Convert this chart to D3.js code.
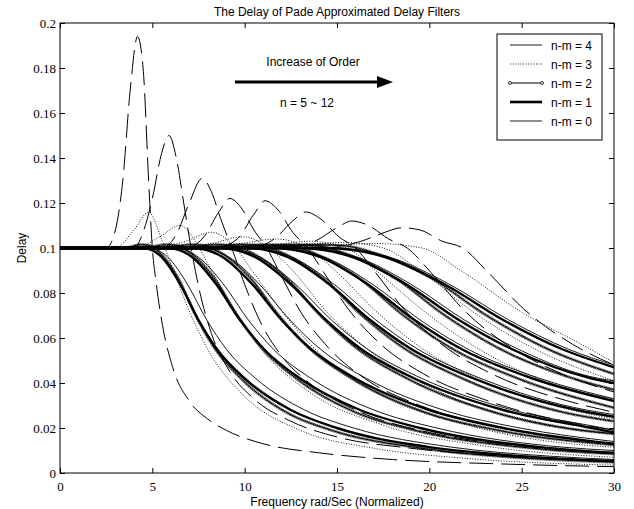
<!DOCTYPE html>
<html><head><meta charset="utf-8">
<script src="https://cdn.jsdelivr.net/npm/d3@7"></script>
<style>body{margin:0;background:#fff}svg{display:block}</style>
</head><body>
<svg id="c" width="634" height="509"></svg>
<script>
const xTicks=[0,5,10,15,20,25,30];
const yTicks=[0,0.02,0.04,0.06,0.08,0.1,0.12,0.14,0.16,0.18,0.2];
const yTickLabels=["0","0.02","0.04","0.06","0.08","0.1","0.12","0.14","0.16","0.18","0.2"];
const legendLabels=["n-m = 4","n-m = 3","n-m = 2","n-m = 1","n-m = 0"];
// n-m = 4 (long dash, resonant peaks), n = 5..12
const fam4=[
[[0,.1],[2.5,.1],[3.0,.108],[3.4,.13],[3.8,.17],[4.2,.194],[4.5,.18],[4.8,.13],[5.0,.1],[5.2,.085],[5.5,.068],[6.1,.047],[7,.032],[8,.024],[9,.019],[11,.013],[14,.009],[18,.006],[24,.004],[30,.0028]],
[[0,.1],[4.0,.1],[4.5,.107],[5.0,.122],[5.5,.142],[5.9,.150],[6.3,.14],[6.7,.12],[7.1,.1],[7.5,.083],[8.2,.062],[9.2,.045],[10.5,.033],[12.5,.023],[15,.016],[19,.011],[24,.0075],[30,.005]],
[[0,.1],[5.5,.1],[6.3,.106],[7,.12],[7.7,.131],[8.2,.125],[8.7,.113],[9.3,.1],[9.9,.086],[10.8,.068],[12,.052],[13.5,.04],[16,.028],[20,.018],[25,.012],[30,.0085]],
[[0,.1],[6.8,.1],[7.8,.105],[8.6,.116],[9.2,.122],[9.8,.118],[10.5,.108],[11.2,.1],[11.9,.089],[13,.072],[14.5,.056],[16.5,.042],[19.5,.030],[24,.020],[30,.013]],
[[0,.1],[8.4,.1],[9.6,.104],[10.5,.115],[11.1,.121],[11.8,.117],[12.6,.107],[13.4,.1],[14.3,.089],[15.6,.073],[17.4,.057],[19.7,.044],[23.2,.032],[30,.019]],
[[0,.1],[10.2,.1],[11.6,.104],[12.6,.112],[13.3,.116],[14.1,.113],[15.1,.105],[16,.1],[17.1,.089],[18.6,.073],[20.7,.057],[23.4,.044],[27.5,.032],[30,.027]],
[[0,.1],[12.2,.1],[13.8,.103],[15,.109],[15.8,.112],[16.7,.11],[17.8,.104],[18.8,.1],[20.1,.089],[21.8,.073],[24.2,.057],[27.2,.044],[30,.036]],
[[0,.1],[14.4,.1],[16.3,.103],[17.6,.107],[18.5,.109],[19.5,.108],[20.7,.103],[21.8,.1],[23.2,.089],[25.1,.073],[27.8,.057],[30,.048]]
];
// n-m = 3 (dotted, small peaks)
const fam3=[
[[0,.1],[3.0,.1],[4.0,.108],[4.8,.116],[5.5,.104],[6.1,.091],[7,.072],[8,.055],[10,.034],[13,.019],[17,.011],[22,.0065],[30,.0035]],
[[0,.1],[4.1,.1],[5.4,.105],[6.5,.110],[7.4,.102],[8.2,.09],[9.5,.072],[10.8,.056],[13.5,.036],[17.6,.021],[23,.012],[30,.007]],
[[0,.1],[5.1,.1],[6.8,.103],[8.2,.107],[9.4,.101],[10.4,.09],[12,.072],[13.7,.056],[17.1,.036],[22.2,.021],[29,.012],[30,.0115]],
[[0,.1],[6.2,.1],[8.2,.102],[9.9,.105],[11.3,.1],[12.6,.09],[14.4,.072],[16.5,.056],[20.6,.036],[26.8,.021],[30,.017]],
[[0,.1],[7.3,.1],[9.8,.102],[11.7,.104],[13.4,.1],[14.9,.09],[17.1,.072],[19.5,.056],[24.4,.036],[30,.024]],
[[0,.1],[8.4,.1],[11.2,.101],[13.5,.103],[15.5,.1],[17.1,.09],[19.7,.072],[22.5,.056],[28.1,.036],[30,.033]],
[[0,.1],[9.6,.1],[12.8,.101],[15.3,.1025],[17.5,.1],[19.5,.09],[22.3,.072],[25.5,.056],[30,.041]],
[[0,.1],[10.7,.1],[14.2,.101],[17.1,.102],[19.6,.1],[21.7,.09],[24.9,.072],[28.5,.056],[30,.049]]
];
// n-m = 2 (line with circle markers)
const fam2=[
[[0,.1],[3.43,.1],[4.41,.1015],[4.9,.101],[5.39,.098],[6.37,.087],[7.35,.07],[8.33,.056],[9.8,.042],[12.25,.027],[14.7,.019],[19.6,.011],[24.5,.007],[29.4,.005],[30,.0048]],
[[0,.1],[4.48,.1],[5.76,.1015],[6.4,.101],[7.04,.098],[8.32,.087],[9.6,.07],[10.88,.056],[12.8,.042],[16,.027],[19.2,.019],[25.6,.011],[30,.0085]],
[[0,.1],[5.53,.1],[7.11,.1015],[7.9,.101],[8.69,.098],[10.27,.087],[11.85,.07],[13.43,.056],[15.8,.042],[19.75,.027],[23.7,.019],[30,.0125]],
[[0,.1],[6.58,.1],[8.46,.1015],[9.4,.101],[10.34,.098],[12.22,.087],[14.1,.07],[15.98,.056],[18.8,.042],[23.5,.027],[28.2,.019],[30,.0175]],
[[0,.1],[7.63,.1],[9.81,.1015],[10.9,.101],[11.99,.098],[14.17,.087],[16.35,.07],[18.53,.056],[21.8,.042],[27.25,.027],[30,.023]],
[[0,.1],[8.68,.1],[11.16,.1015],[12.4,.101],[13.64,.098],[16.12,.087],[18.6,.07],[21.08,.056],[24.8,.042],[30,.029]],
[[0,.1],[9.73,.1],[12.51,.1015],[13.9,.101],[15.29,.098],[18.07,.087],[20.85,.07],[23.63,.056],[27.8,.042],[30,.037]],
[[0,.1],[10.78,.1],[13.86,.1015],[15.4,.101],[16.94,.098],[20.02,.087],[23.1,.07],[26.18,.056],[30,.044]]
];
// n-m = 1 (thick solid)
const fam1=[
[[0,.1],[4.5,.1],[5.5,.096],[6.5,.084],[7.5,.068],[8.5,.055],[10,.042],[12.5,.028],[15,.02],[20,.0115],[25,.0075],[30,.0053]],
[[0,.1],[5.85,.1],[7.15,.096],[8.45,.084],[9.75,.068],[11.05,.055],[13,.042],[16.25,.028],[19.5,.02],[26,.0115],[30,.009]],
[[0,.1],[7.2,.1],[8.8,.096],[10.4,.084],[12,.068],[13.6,.055],[16,.042],[20,.028],[24,.02],[30,.013]],
[[0,.1],[8.64,.1],[10.56,.096],[12.48,.084],[14.4,.068],[16.32,.055],[19.2,.042],[24,.028],[28.8,.02],[30,.018]],
[[0,.1],[10.08,.1],[12.32,.096],[14.56,.084],[16.8,.068],[19.04,.055],[22.4,.042],[28,.028],[30,.025]],
[[0,.1],[11.52,.1],[14.08,.096],[16.64,.084],[19.2,.068],[21.76,.055],[25.6,.042],[30,.032]],
[[0,.1],[12.96,.1],[15.84,.096],[18.72,.084],[21.6,.068],[24.48,.055],[28.8,.042],[30,.040]],
[[0,.1],[14.4,.1],[17.6,.096],[20.8,.084],[24,.068],[27.2,.055],[30,.047]]
];
// n-m = 0 (thin solid)
const fam0=[
[[0,.1],[4.77,.1],[5.83,.096],[6.89,.084],[7.95,.068],[9.01,.055],[10.6,.042],[13.25,.028],[15.9,.02],[21.2,.0115],[26.5,.0075],[30,.006]],
[[0,.1],[6.12,.1],[7.48,.096],[8.84,.084],[10.2,.068],[11.56,.055],[13.6,.042],[17,.028],[20.4,.02],[27.2,.0115],[30,.010]],
[[0,.1],[7.47,.1],[9.13,.096],[10.79,.084],[12.45,.068],[14.11,.055],[16.6,.042],[20.75,.028],[24.9,.02],[30,.014]],
[[0,.1],[8.82,.1],[10.78,.096],[12.74,.084],[14.7,.068],[16.66,.055],[19.6,.042],[24.5,.028],[29.4,.02],[30,.019]],
[[0,.1],[10.26,.1],[12.54,.096],[14.82,.084],[17.1,.068],[19.38,.055],[22.8,.042],[28.5,.028],[30,.026]],
[[0,.1],[11.7,.1],[14.3,.096],[16.9,.084],[19.5,.068],[22.1,.055],[26,.042],[30,.033]],
[[0,.1],[13.14,.1],[16.06,.096],[18.98,.084],[21.9,.068],[24.82,.055],[29.2,.042],[30,.041]],
[[0,.1],[14.58,.1],[17.82,.096],[21.06,.084],[24.3,.068],[27.54,.055],[30,.048]]
];

const svg=d3.select("#c");
const M={l:60,r:614,t:23,b:473};
const x=d3.scaleLinear().domain([0,30]).range([M.l,M.r]);
const y=d3.scaleLinear().domain([0,0.2]).range([M.b,M.t]);
const line=d3.line().x(d=>x(d[0])).y(d=>y(d[1])).curve(d3.curveMonotoneX);

svg.append("defs").append("clipPath").attr("id","clip").append("rect")
  .attr("x",M.l).attr("y",M.t).attr("width",M.r-M.l).attr("height",M.b-M.t);
const g=svg.append("g").attr("clip-path","url(#clip)");

const styles=[
  {data:fam0,w:0.9,dash:null},
  {data:fam1,w:2.4,dash:null},
  {data:fam2,w:1.0,dash:null,marker:true},
  {data:fam3,w:0.9,dash:"1,1.6"},
  {data:fam4,w:1.0,dash:"24,8"}
];
styles.forEach(s=>{
  s.data.forEach(c=>{
    const p=g.append("path").attr("d",line(c)).attr("fill","none")
      .attr("stroke","#000").attr("stroke-width",s.w);
    if(s.dash)p.attr("stroke-dasharray",s.dash);
    if(s.marker){
      const node=p.node(),L=node.getTotalLength();
      const pts=[];
      for(let t=0;t<=L;t+=2.6)pts.push(node.getPointAtLength(t));
      g.append("g").selectAll("circle").data(pts).join("circle")
        .attr("cx",d=>d.x).attr("cy",d=>d.y).attr("r",1.2)
        .attr("fill","none").attr("stroke","#000").attr("stroke-width",0.6);
    }
  });
});

// frame and axes
svg.append("rect").attr("x",M.l).attr("y",M.t).attr("width",M.r-M.l).attr("height",M.b-M.t)
  .attr("fill","none").attr("stroke","#000").attr("stroke-width",1);
const axB=d3.axisBottom(x).tickValues(xTicks).tickSize(-5).tickPadding(9).tickFormat(d3.format("d"));
const axT=d3.axisTop(x).tickValues(xTicks).tickSize(-5).tickFormat("");
const axL=d3.axisLeft(y).tickValues(yTicks).tickSize(-5).tickPadding(4).tickFormat((d,i)=>yTickLabels[i]);
const axR=d3.axisRight(y).tickValues(yTicks).tickSize(-5).tickFormat("");
function styleAx(s){s.select(".domain").remove();s.selectAll("line").attr("stroke","#000");
  s.selectAll("text").attr("font-family","'Liberation Serif','DejaVu Serif',serif").attr("font-size",13).attr("fill","#000");}
svg.append("g").attr("transform",`translate(0,${M.b})`).call(axB).call(styleAx);
svg.append("g").attr("transform",`translate(0,${M.t})`).call(axT).call(styleAx);
svg.append("g").attr("transform",`translate(${M.l},0)`).call(axL).call(styleAx);
svg.append("g").attr("transform",`translate(${M.r},0)`).call(axR).call(styleAx);

const sans="'Liberation Sans',Arial,sans-serif";
svg.append("text").attr("x",337).attr("y",16).attr("text-anchor","middle")
  .attr("font-family",sans).attr("font-size",12).text("The Delay of Pade Approximated Delay Filters");
svg.append("text").attr("x",337).attr("y",506).attr("text-anchor","middle")
  .attr("font-family",sans).attr("font-size",12).text("Frequency rad/Sec (Normalized)");
svg.append("text").attr("transform","translate(26,248) rotate(-90)").attr("text-anchor","middle")
  .attr("font-family",sans).attr("font-size",12).text("Delay");

// annotation
svg.append("text").attr("x",313).attr("y",66).attr("text-anchor","middle")
  .attr("font-family",sans).attr("font-size",12).text("Increase of Order");
svg.append("line").attr("x1",235).attr("x2",380).attr("y1",82).attr("y2",82).attr("stroke","#000").attr("stroke-width",3);
svg.append("path").attr("d","M377,76 L393,82 L377,88 Z").attr("fill","#000");
svg.append("text").attr("x",307).attr("y",107).attr("text-anchor","middle")
  .attr("font-family",sans).attr("font-size",12).text("n = 5 ~ 12");

// legend
const lg=svg.append("g");
lg.append("rect").attr("x",497).attr("y",34).attr("width",105).attr("height",106)
  .attr("fill","#fff").attr("stroke","#000").attr("stroke-width",1);
const lstyles=[{w:0.9},{w:0.9,dash:"1,1.6"},{w:1,marker:true},{w:2.6},{w:0.9}];
legendLabels.forEach((t,i)=>{
  const yy=45+i*19;
  const l=lg.append("line").attr("x1",510).attr("x2",542).attr("y1",yy).attr("y2",yy)
    .attr("stroke","#000").attr("stroke-width",lstyles[i].w);
  if(lstyles[i].dash)l.attr("stroke-dasharray",lstyles[i].dash);
  if(lstyles[i].marker){[510,542].forEach(cx=>lg.append("circle").attr("cx",cx).attr("cy",yy).attr("r",1.5)
    .attr("fill","#fff").attr("stroke","#000").attr("stroke-width",0.8));}
  lg.append("text").attr("x",551).attr("y",yy+4.5).attr("font-family",sans).attr("font-size",12).text(t);
});
</script>
</body></html>
